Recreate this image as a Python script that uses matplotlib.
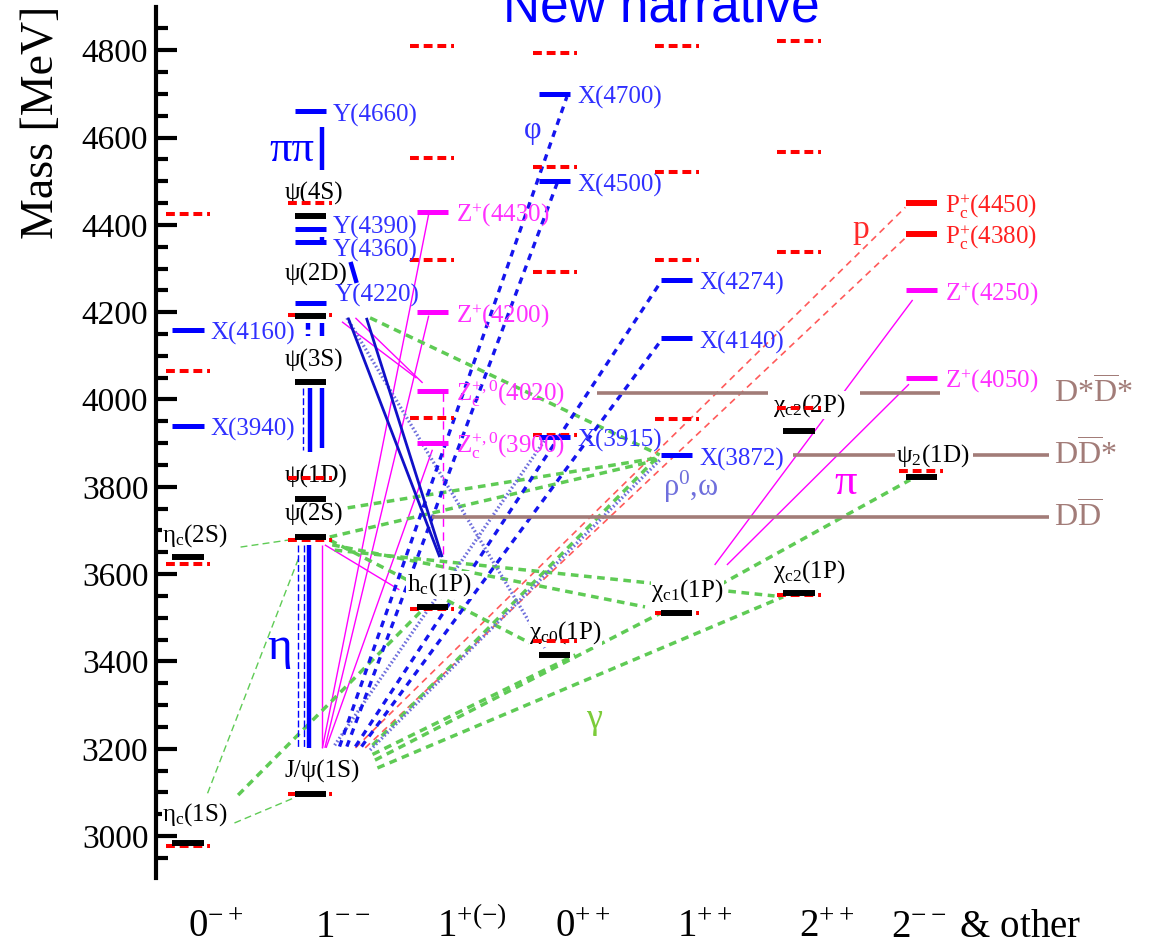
import matplotlib
matplotlib.use("Agg")
import matplotlib.pyplot as plt
from matplotlib.ticker import MultipleLocator
from matplotlib.transforms import blended_transform_factory

plt.rcParams['font.family'] = ['Liberation Serif', 'DejaVu Serif']
plt.rcParams['mathtext.fontset'] = 'custom'
plt.rcParams['mathtext.rm'] = 'Liberation Serif'
plt.rcParams['mathtext.it'] = 'Liberation Serif:italic'
plt.rcParams['mathtext.default'] = 'regular'

# ---------------- data ----------------
categories = [r'$0^{-+}$', r'$1^{--}$', r'$1^{+(-)}$', r'$0^{++}$', r'$1^{++}$', r'$2^{++}$', r'$2^{--}$ & other']

# conventional charmonia that are observed (black)
cc_cat = [0, 0, 1, 1, 1, 1, 1, 1, 2, 3, 4, 5, 5, 6]
cc_mass = [2984, 3639, 3097, 3686, 3773, 4039, 4191, 4421, 3525, 3415, 3511, 3556, 3927, 3822]
cc_name = [r'$η_c$(1S)', r'$η_c$(2S)', 'J/ψ(1S)', 'ψ(2S)', 'ψ(1D)', 'ψ(3S)', 'ψ(2D)', 'ψ(4S)',
           r'$h_c$(1P)', r'$χ_{c0}$(1P)', r'$χ_{c1}$(1P)', r'$χ_{c2}$(1P)', r'$χ_{c2}$(2P)', r'$ψ_2$(1D)']

# X / Y states (blue)
xy_cat = [0, 0, 1, 1, 1, 1, 3, 3, 3, 4, 4, 4]
xy_mass = [4160, 3940, 4660, 4390, 4360, 4220, 4700, 4500, 3915, 4274, 4140, 3872]
xy_name = ['X(4160)', 'X(3940)', 'Y(4660)', 'Y(4390)', 'Y(4360)', 'Y(4220)',
           'X(4700)', 'X(4500)', 'X(3915)', 'X(4274)', 'X(4140)', 'X(3872)']

# charged Z states (magenta)
z_cat = [2, 2, 2, 2, 6, 6]
z_mass = [4430, 4200, 4020, 3900, 4250, 4050]
z_name = [r'$Z^{+}$(4430)', r'$Z^{+}$(4200)', r'$Z_c^{+,0}$(4020)', r'$Z_c^{+,0}$(3900)',
          r'$Z^{+}$(4250)', r'$Z^{+}$(4050)']

# pentaquarks (red)
pc_cat = [6, 6]
pc_mass = [4450, 4380]
pc_name = [r'$P_c^{+}$(4450)', r'$P_c^{+}$(4380)']

# potential-model predictions (red dashed)
pred_cat = [0, 0, 0, 0,
            1, 1, 1, 1, 1,
            2, 2, 2, 2, 2,
            3, 3, 3, 3, 3,
            4, 4, 4, 4, 4,
            5, 5, 5, 5, 5,
            6]
pred_mass = [2977, 3623, 4065, 4425,
             3097, 3678, 3820, 4193, 4450,
             3520, 3958, 4320, 4553, 4810,
             3447, 3919, 4292, 4533, 4794,
             3511, 3955, 4320, 4521, 4810,
             3552, 3980, 4338, 4567, 4821,
             3836]

# open-charm thresholds
thr_name = [r'D*$\overline{D}$*', r'D$\overline{D}$*', r'D$\overline{D}$']
thr_mass = [4014, 3872, 3730]
thr_span = [[(3.35, 4.75), (5.50, 6.15)], [(4.95, 5.79), (6.42, 7.05)], [(2.0, 7.05)]]

# transitions: (category_from, mass_from, category_to, mass_to)
tr_blue_solid = [(1.31, 4187, 2.06, 3639), (1.46, 4187, 2.08, 3639)]
tr_blue_vert = [(0.99, 3667, 0.99, 3202), (1.00, 4026, 1.00, 3880), (1.10, 4026, 1.10, 3890),
                (1.10, 4175, 1.10, 4145), (1.10, 4624, 1.10, 4526), (1.10, 4372, 1.10, 4361),
                (1.33, 4315, 1.38, 4267)]
tr_blue_vert_dash = [(0.98, 4175, 0.98, 4145)]
tr_blue_thin = [(0.90, 3667, 0.90, 3202), (0.95, 3667, 0.95, 3202), (0.94, 4026, 0.94, 3884)]
tr_phi = [(1.24, 3205, 3.10, 4693), (1.30, 3205, 3.02, 4495),
          (1.37, 3205, 3.87, 4270), (1.42, 3205, 3.87, 4135)]
tr_gamma = [(1.51, 3187, 3.17, 3415), (1.53, 3174, 3.89, 3514), (1.55, 3156, 4.87, 3548),
            (1.51, 3208, 3.86, 3873), (1.16, 3678, 2.80, 3442), (1.18, 3667, 3.74, 3525),
            (1.20, 3655, 4.80, 3550), (1.16, 3685, 3.84, 3861), (1.20, 3747, 3.84, 3866),
            (1.49, 4187, 3.86, 3873), (4.35, 3575, 5.91, 3816), (0.41, 3094, 1.90, 3513)]
tr_gamma_thin = [(0.38, 3030, 0.88, 3089), (0.16, 3098, 0.91, 3640), (0.43, 3662, 0.82, 3678)]
tr_omega = [(1.30, 4187, 2.92, 3431), (1.49, 3197, 3.86, 3861), (1.20, 3208, 2.92, 3907)]
tr_proton = [(1.37, 3202, 5.87, 4440), (1.45, 3202, 5.87, 4370)]
tr_pion = [(1.10, 3202, 1.97, 4425), (1.12, 3202, 1.97, 4192), (1.13, 3202, 2.00, 3885),
           (1.26, 4178, 1.87, 4049), (1.37, 4187, 1.92, 4038), (1.12, 3667, 1.73, 3564),
           (1.10, 3667, 1.10, 3202), (4.31, 3621, 5.93, 4228), (4.41, 3621, 5.90, 4035)]
tr_pion_dash = [(2.09, 4015, 2.09, 3540)]

# ---------------- style ----------------
HW = 0.127        # half width of a level bar, category units
HW_PRED = 0.18
BLUE = '#0000ff'
BLUE_TXT = '#3030ff'
MAG = '#ff00ff'
MAG_TXT = '#ff30ff'
RED = '#ff0000'
GREEN = '#5fcb55'
LAV = '#6f6fdc'
BROWN = '#a27c78'
LBL = 18

fig = plt.figure(figsize=(11.58, 9.44), dpi=100)
ax = fig.add_axes([156 / 1158, 66 / 944, 1002 / 1158, 871 / 944])
ax.set_xlim(-0.262, 7.938)
ax.set_ylim(2904, 4899)

for s in ('top', 'right', 'bottom'):
    ax.spines[s].set_visible(False)
ax.spines['left'].set_linewidth(3)
ax.set_xticks([])
ax.yaxis.set_major_locator(MultipleLocator(200))
ax.yaxis.set_minor_locator(MultipleLocator(50))
ax.tick_params(axis='y', which='major', direction='in', length=15, width=3,
               labelsize=24, pad=5.5)
ax.tick_params(axis='y', which='minor', direction='in', length=8.5, width=3)


def draw(lines, **kw):
    for x0, m0, x1, m1 in lines:
        ax.plot([x0, x1], [m0, m1], solid_capstyle='butt', **kw)


# transitions
draw(tr_gamma_thin, color=GREEN, lw=1.0, ls=(0, (5, 3)), zorder=1)
draw(tr_proton, color='#ff5a5a', lw=1.2, ls=(0, (4, 3)), zorder=1)
draw(tr_pion, color=MAG, lw=1.0, zorder=1)
draw(tr_pion_dash, color=MAG, lw=1.0, ls=(0, (6, 4)), zorder=1)
draw(tr_gamma, color=GREEN, lw=2.5, ls=(0, (2.2, 1.6)), zorder=1.2)
draw(tr_omega, color=LAV, lw=2.4, ls=(0, (0.5, 0.7)), zorder=1.2)
draw(tr_phi, color='#1515ee', lw=2.4, ls=(0, (2.0, 1.8)), zorder=1.3)
draw(tr_blue_solid, color='#1010c8', lw=2.0, zorder=1.3)
draw(tr_blue_vert, color=BLUE, lw=3.2, zorder=1.3)
draw(tr_blue_vert_dash, color=BLUE, lw=3.2, ls=(0, (1.5, 1)), zorder=1.3)
draw(tr_blue_thin, color=BLUE, lw=1.0, ls=(0, (5, 2)), zorder=1.3)

# thresholds, with their names lined up on the right
thr_label_x = max(x1 for spans in thr_span for _, x1 in spans)
for name, m, spans in zip(thr_name, thr_mass, thr_span):
    for x0, x1 in spans:
        ax.plot([x0, x1], [m, m], color=BROWN, lw=2.6, solid_capstyle='butt', zorder=1.5)
    ax.annotate(name, xy=(thr_label_x, m), xytext=(5, 0), textcoords='offset pixels',
                ha='left', va='center', color=BROWN, fontsize=23, annotation_clip=False)

# predictions
ax.hlines(pred_mass, [c - HW_PRED for c in pred_cat], [c + HW_PRED for c in pred_cat],
          colors=RED, lw=2.9, linestyles=[(0, (2.2, 1.2))], zorder=3)


def bars(cats, masses, color, lw):
    ax.hlines(masses, [c - HW for c in cats], [c + HW for c in cats], colors=color, lw=lw, zorder=4)


bars(cc_cat, cc_mass, 'black', 4.3)
bars(xy_cat, xy_mass, BLUE, 3.6)
bars(z_cat, z_mass, MAG, 3.6)
bars(pc_cat, pc_mass, RED, 4.3)


def right_label(c, m, s, color, dx=7, dy=-10):
    ax.annotate(s, xy=(c + HW, m), xytext=(dx, dy), textcoords='offset pixels',
                ha='left', va='baseline', color=color, fontsize=LBL, zorder=5)


above_extra = {r'$η_c$(1S)': 22, 'ψ(2D)': 36, r'$χ_{c2}$(2P)': 20}
for c, m, s in zip(cc_cat, cc_mass, cc_name):
    ax.annotate(s, xy=(c - HW, m), xytext=(-10, above_extra.get(s, 16)),
                textcoords='offset pixels', ha='left', va='baseline', color='black',
                fontsize=LBL, zorder=2,
                bbox=dict(fc='white', ec='none', pad=0.3))

right_shift = {'Y(4220)': (9, 2), 'Y(4390)': (7, -4), 'Y(4360)': (7, -14)}
for c, m, s in zip(xy_cat, xy_mass, xy_name):
    dx, dy = right_shift.get(s, (7, -10))
    right_label(c, m, s, BLUE_TXT, dx=dx, dy=dy)
for c, m, s in zip(z_cat, z_mass, z_name):
    right_label(c, m, s, MAG_TXT, dx=8)
for c, m, s in zip(pc_cat, pc_mass, pc_name):
    right_label(c, m, s, '#ff2020', dx=8)

# decay-channel tags
ax.text(0.85, 4572, 'ππ', color=BLUE, fontsize=32, ha='center', va='center')
ax.text(0.75, 3431, 'η', color=BLUE, fontsize=34, ha='center', va='center')
ax.text(2.82, 4617, 'φ', color=BLUE_TXT, fontsize=22, ha='center', va='center')
ax.text(5.51, 4388, 'p', color='#ff2a2a', fontsize=24, ha='center', va='center')
ax.text(5.38, 3809, 'π', color=MAG, fontsize=32, ha='center', va='center')
ax.text(3.32, 3266, 'γ', color='#7ccc3a', fontsize=26, ha='center', va='center')
ax.text(4.11, 3800, r'$ρ^{0}$,ω', color=LAV, fontsize=22, ha='center', va='center')

# J^PC categories along the bottom
cat_shift = [0.0, 0.04, 0.04, 0.0, 0.0, 0.0, -0.25]
trans = blended_transform_factory(ax.transData, fig.transFigure)
for i, lbl in enumerate(categories):
    ax.text(i + cat_shift[i], 7 / 944, lbl, transform=trans, ha='left', va='baseline',
            fontsize=28, clip_on=False)

fig.text(42 / 1158, 1 - 122 / 944, 'Mass [MeV]', rotation=90, ha='center', va='center',
         fontsize=33)
fig.text(661 / 1158, 1 - 22 / 944, 'New narrative', family='Liberation Sans', fontsize=37,
         color='#0000ff', ha='center', va='baseline')

fig.savefig('out.png', dpi=100, facecolor='white')
